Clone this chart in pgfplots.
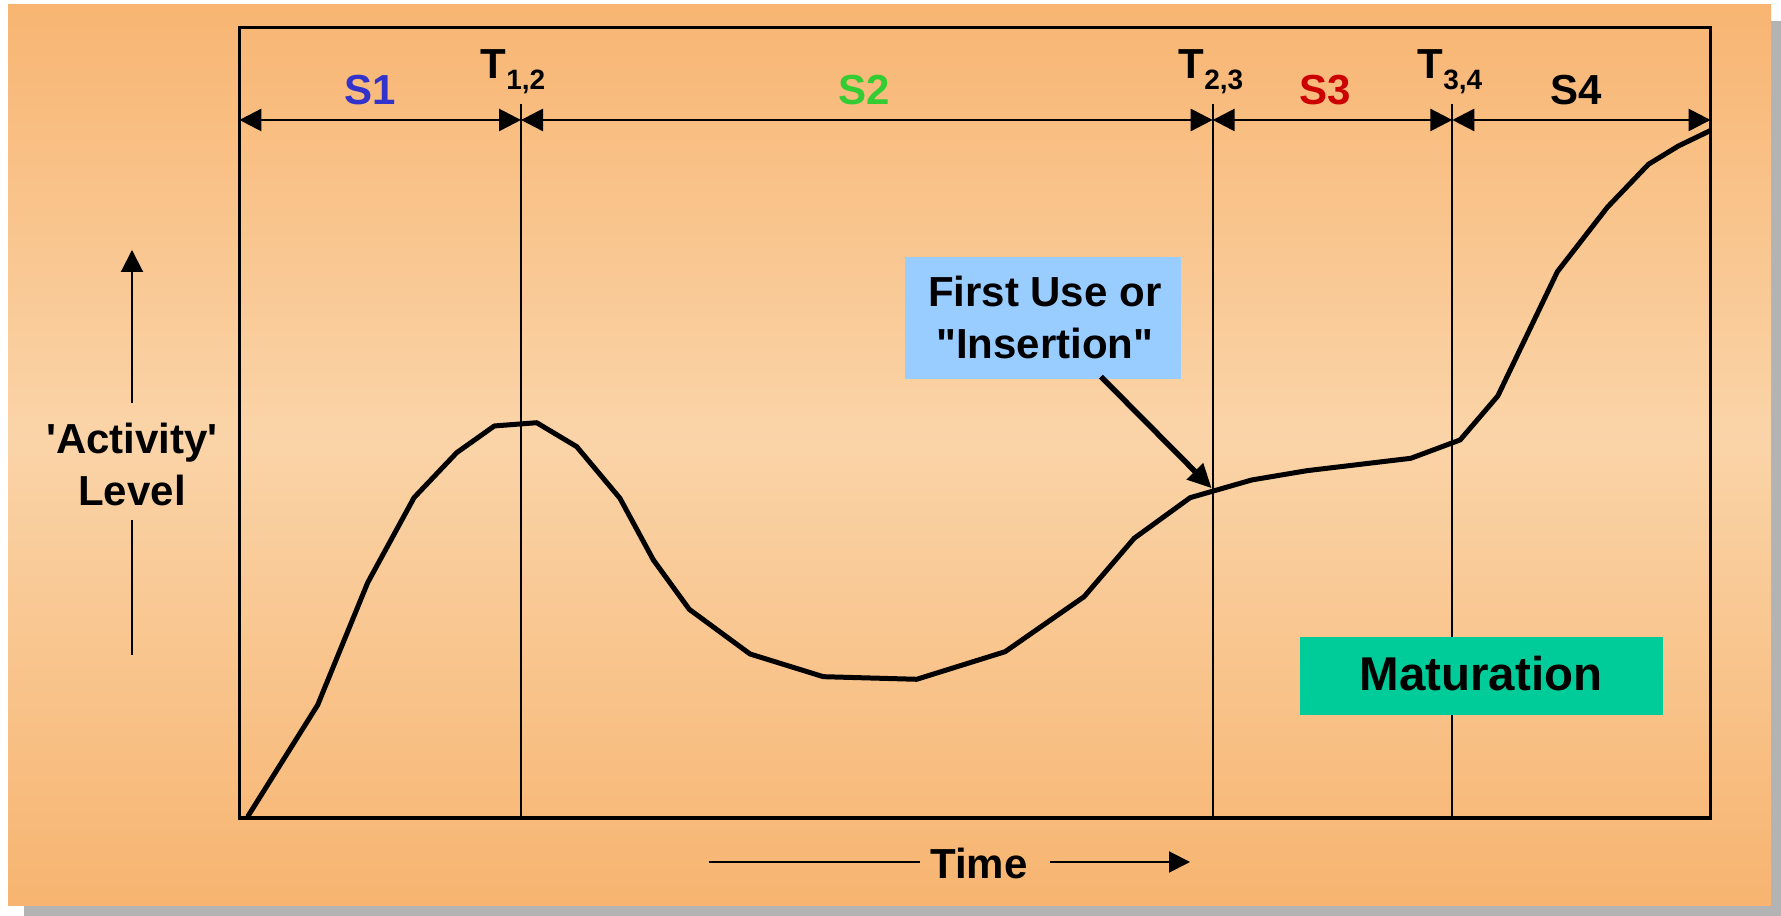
\documentclass[border=0pt]{standalone}
\usepackage{pgfplots}
\pgfplotsset{compat=1.18}
\usepackage{fontspec}
\setmainfont{Liberation Sans}
\usetikzlibrary{arrows.meta}
\definecolor{topc}{RGB}{248,181,114}
\definecolor{midc}{RGB}{250,212,168}
\definecolor{botc}{RGB}{247,180,112}
\definecolor{shadowc}{RGB}{179,179,179}
\definecolor{sblue}{RGB}{51,51,204}
\definecolor{sgreen}{RGB}{51,204,51}
\definecolor{sred}{RGB}{204,0,0}
\definecolor{callout}{RGB}{153,204,255}
\definecolor{matur}{RGB}{0,204,153}
\newcommand{\mainsz}{\fontsize{11.95}{14.7}\selectfont\bfseries}
\newcommand{\subsz}{\fontsize{7.97}{9}\selectfont\bfseries}
\begin{document}
\begin{tikzpicture}
% page extent
\path (0,0) rectangle (178.1mm,91.6mm);
% shadow and gradient background
\fill[shadowc] (2.4mm,0mm) rectangle (178.1mm,89.5mm);
\fill[top color=midc, bottom color=botc, draw=none] (0.8mm,1.0mm) rectangle (177.1mm,48.05mm);
\fill[top color=topc, bottom color=midc, draw=none] (0.8mm,48mm) rectangle (177.1mm,91.1mm);

\begin{axis}[
  at={(23.94mm,9.8mm)}, anchor=south west,
  scale only axis, width=147.11mm, height=79.07mm,
  xmin=0, xmax=100, ymin=0, ymax=100,
  xtick=\empty, ytick=\empty,
  axis line style={line width=0.94pt, black},
  clip=false,
]
% stage boundaries
\addplot[black, line width=0.48pt] coordinates {(19.14,0) (19.14,90.3)};
\addplot[black, line width=0.48pt] coordinates {(66.17,0) (66.17,90.3)};
\addplot[black, line width=0.48pt] coordinates {(82.45,0) (82.45,90.3)};
% activity curve
\addplot[black, line width=1.42pt, line join=round] coordinates {
(0.56,0.16) (5.32,14.29) (8.72,29.76) (11.87,40.51) (14.77,46.20)
(17.33,49.58) (20.21,49.99) (22.93,46.96) (25.87,40.43) (28.14,32.63)
(30.58,26.39) (34.71,20.74) (39.69,17.87) (46.04,17.54) (52.05,21.03)
(57.42,27.99) (60.82,35.37) (64.63,40.51) (68.82,42.75) (72.56,43.92)
(79.63,45.49) (82.98,47.81) (85.54,53.37) (89.59,69.09) (92.99,77.24)
(95.78,82.67) (97.82,84.99) (99.97,86.92)};
\end{axis}

% stage span arrows
\begin{scope}[line width=0.77pt, {Triangle[length=2.2mm,width=2.2mm]}-{Triangle[length=2.2mm,width=2.2mm]}]
\draw (23.94mm,79.6mm) -- (52.1mm,79.6mm);
\draw (52.1mm,79.6mm) -- (121.27mm,79.6mm);
\draw (121.27mm,79.6mm) -- (145.23mm,79.6mm);
\draw (145.23mm,79.6mm) -- (171.05mm,79.6mm);
\end{scope}

% stage labels
\node[anchor=base, inner sep=0, text=sblue] at (37.03mm,81.1mm) {\mainsz S1};
\node[anchor=base, inner sep=0, text=sgreen] at (86.4mm,81.1mm) {\mainsz S2};
\node[anchor=base, inner sep=0, text=sred] at (132.5mm,81.1mm) {\mainsz S3};
\node[anchor=base, inner sep=0, text=black] at (157.6mm,81.1mm) {\mainsz S4};
\node[anchor=base west, inner sep=0] at (48.0mm,83.7mm) {\mainsz T\raisebox{-1.1mm}{\subsz 1,2}};
\node[anchor=base west, inner sep=0] at (117.8mm,83.7mm) {\mainsz T\raisebox{-1.1mm}{\subsz 2,3}};
\node[anchor=base west, inner sep=0] at (141.7mm,83.7mm) {\mainsz T\raisebox{-1.1mm}{\subsz 3,4}};

% callout
\fill[callout] (90.53mm,53.73mm) rectangle (118.14mm,65.87mm);
\node[anchor=base, inner sep=0] at (104.47mm,60.93mm) {\mainsz First Use or};
\node[anchor=base, inner sep=0] at (104.47mm,55.77mm) {\mainsz \textquotedbl Insertion\textquotedbl};
\draw[line width=1.56pt, -{Triangle[length=2.4mm,width=2.2mm]}] (110.1mm,53.93mm) -- (121.17mm,42.77mm);

% maturation box
\fill[matur] (129.96mm,20.13mm) rectangle (166.25mm,27.9mm);
\node[anchor=base, inner sep=0] at (148.1mm,22.5mm) {\fontsize{13.5}{16}\selectfont\bfseries Maturation};

% y label
\node[anchor=base, inner sep=0] at (13.2mm,46.2mm) {\mainsz \textquotesingle Activity\textquotesingle};
\node[anchor=base, inner sep=0] at (13.2mm,41.0mm) {\mainsz Level};
\draw[line width=0.57pt, -{Triangle[length=2.2mm,width=2.2mm]}] (13.2mm,51.3mm) -- (13.2mm,66.6mm);
\draw[line width=0.57pt] (13.2mm,39.57mm) -- (13.2mm,26.1mm);

% x label
\node[anchor=base, inner sep=0] at (97.9mm,3.7mm) {\mainsz Time};
\draw[line width=0.57pt] (70.87mm,5.4mm) -- (92.0mm,5.4mm);
\draw[line width=0.57pt, -{Triangle[length=2.1mm,width=2.1mm]}] (105.0mm,5.4mm) -- (119.0mm,5.4mm);
\end{tikzpicture}
\end{document}
